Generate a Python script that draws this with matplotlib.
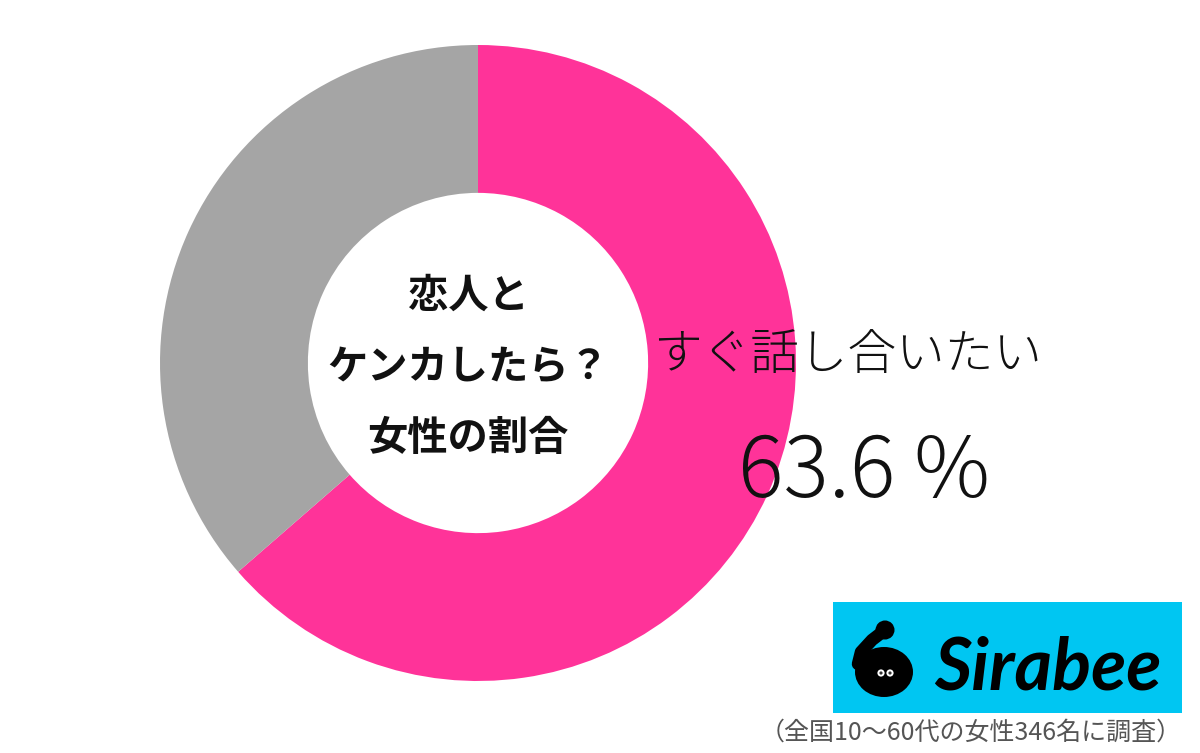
import matplotlib
matplotlib.use("Agg")
import matplotlib.pyplot as plt
from matplotlib.patches import Rectangle, Circle, Ellipse
from matplotlib.lines import Line2D

# ---------- data ----------
labels = ["すぐ話し合いたい", "その他"]
shares = [63.6, 36.4]
colors = ["#FF3399", "#A5A5A5"]
center_lines = ["恋人と", "ケンカしたら？", "女性の割合"]
value_label = "63.6 %"
footnote = "（全国10〜60代の女性346名に調査）"

W, H = 1200, 753
JP = ["Noto Sans CJK JP", "DejaVu Sans"]

fig = plt.figure(figsize=(W / 100, H / 100), dpi=100)
fig.patch.set_facecolor("white")

# ---------- donut ----------
cx, cy, R = 478, 363, 318
pie_ax = fig.add_axes([(cx - R) / W, 1 - (cy + R) / H, 2 * R / W, 2 * R / H])
pie_ax.pie(shares, colors=colors, startangle=90, counterclock=False,
           radius=1.0, wedgeprops=dict(width=0.465, edgecolor="none"))
pie_ax.set_xlim(-1, 1)
pie_ax.set_ylim(-1, 1)
pie_ax.axis("off")

# overlay in pixel coords (y down)
ov = fig.add_axes([0, 0, 1, 1], zorder=5)
ov.set_xlim(0, W)
ov.set_ylim(H, 0)
ov.axis("off")
ov.patch.set_alpha(0)

# center text
for y, line in zip([296, 368, 438], center_lines):
    ov.text(cx - 10, y, line, ha="center", va="center", fontsize=29,
            fontweight="bold", family=JP, color="#111111")

# category label and value
ov.text(653, 355, labels[0], ha="left", va="center", fontsize=35,
        fontweight="light", family=JP, color="#111111")
ov.text(864, 473, value_label, ha="center", va="center", fontsize=61,
        fontweight="light", family=JP, color="#111111")

# ---------- logo ----------
ov.add_patch(Rectangle((833, 602), 349, 111, facecolor="#00C6F2", edgecolor="none"))
ov.add_patch(Ellipse((884, 672), 58, 50, facecolor="black"))
ov.add_patch(Circle((885, 630), 9.5, facecolor="black"))
ov.add_line(Line2D([885, 872, 861, 858], [630, 640, 652, 664], color="black",
                   linewidth=9, solid_capstyle="round"))
for ex in (881, 890):
    ov.add_patch(Circle((ex, 673), 3.6, facecolor="white", edgecolor="none"))
    ov.add_patch(Circle((ex, 673), 1.6, facecolor="#333333", edgecolor="none"))
ov.text(934, 690, "Sirabee", ha="left", va="baseline", fontsize=52,
        fontweight="bold", style="italic", family="Lato", color="black")

# footnote
ov.text(1182, 733, footnote, ha="right", va="center", fontsize=18,
        family=JP, color="#555555")

fig.savefig("out.png", dpi=100)
